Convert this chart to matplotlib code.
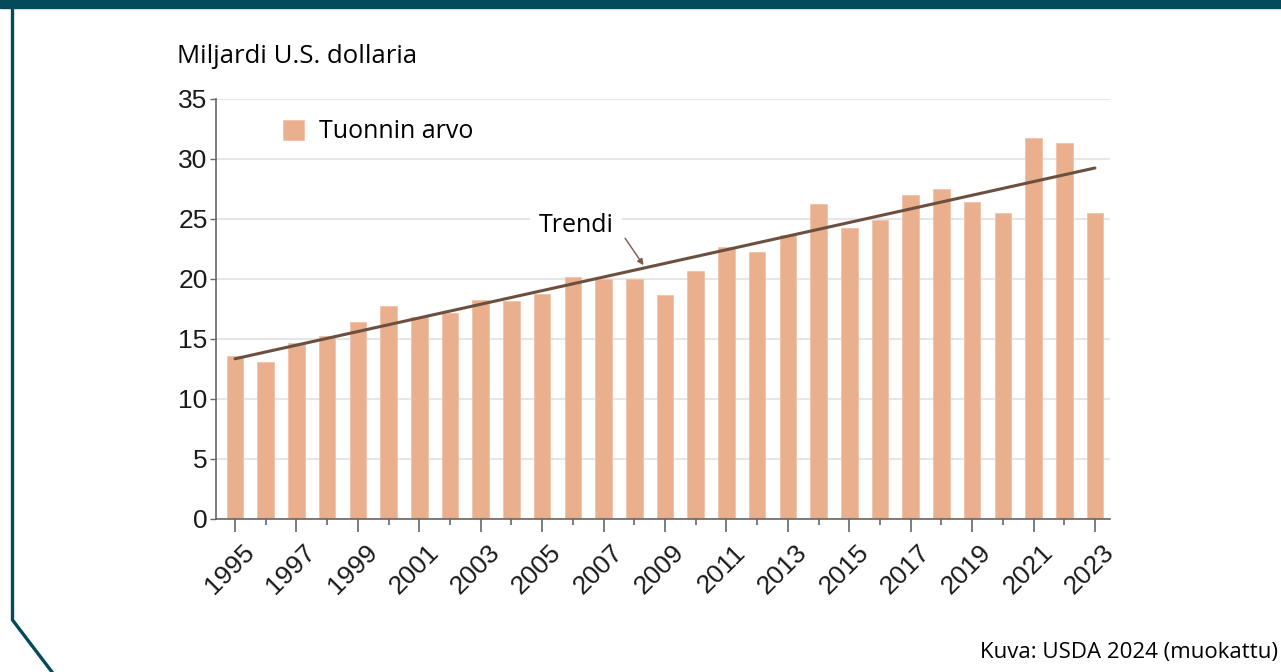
import matplotlib
matplotlib.use('Agg')
import matplotlib.pyplot as plt
import matplotlib.lines as mlines
import matplotlib.patches as mpatches
import matplotlib.transforms as mtransforms

# tuonnin arvo, miljardia USD (luettu kuvasta)
years = list(range(1995, 2024))
import_value = [13.6, 13.1, 14.7, 15.25, 16.4, 17.75, 16.8, 17.15, 18.25, 18.15,
                18.75, 20.15, 20.0, 20.0, 18.7, 20.65, 22.65, 22.25, 23.65, 26.25,
                24.25, 24.9, 27.0, 27.5, 26.4, 25.5, 31.75, 31.3, 25.5]
trend_years = [1995, 2023]
trend_values = [13.35, 29.25]
y_ticks = [0, 5, 10, 15, 20, 25, 30, 35]
x_major = years[::2]
x_minor = years[1::2]

bar_color = '#eaaf8d'
trend_color = '#6b5040'
frame_color = '#054a5a'
tick_color = '#666666'
label_font = ['Open Sans', 'DejaVu Sans']

plt.rcParams['font.family'] = ['Liberation Sans', 'DejaVu Sans']

fig = plt.figure(figsize=(12.81, 6.72), dpi=100)
ax = fig.add_axes([0.1686, 0.2277, 0.6979, 0.625])

ax.bar(years, import_value, width=0.54, color=bar_color, edgecolor='#f0c2a6',
       linewidth=0.6, label='Tuonnin arvo', zorder=2)
ax.plot(trend_years, trend_values, color=trend_color, lw=2.2, zorder=3,
        solid_capstyle='round')

ax.set_xlim(1994.38, 2023.49)
ax.set_ylim(0, 35)
ax.set_yticks(y_ticks)
ax.set_xticks(x_major)
ax.set_xticks(x_minor, minor=True)

ax.grid(axis='y', color='#e6e6e6', lw=1.5, zorder=0)
ax.set_axisbelow(True)
for s in ['top', 'right']:
    ax.spines[s].set_visible(False)
for s in ['left', 'bottom']:
    ax.spines[s].set_color(tick_color)
    ax.spines[s].set_linewidth(1.2)

ax.tick_params(axis='y', length=4, width=1, color=tick_color, pad=2,
               labelsize=19, labelcolor='#1a1a1a')
ax.tick_params(axis='x', which='major', length=9, width=1.2, color=tick_color,
               pad=4, labelsize=19, labelcolor='#1a1a1a')
ax.tick_params(axis='x', which='minor', length=4, width=1.2, color=tick_color)

ax.set_xticklabels([str(y) for y in x_major], rotation=45, ha='right',
                   va='top', rotation_mode='anchor')
# vuosiluvut hieman oikealle ja alas kuten alkuperaisessa
shift = mtransforms.ScaledTranslation(7 / 100, -3 / 100, fig.dpi_scale_trans)
for lbl in ax.get_xticklabels():
    lbl.set_transform(lbl.get_transform() + shift)

leg = ax.legend(loc='upper left', bbox_to_anchor=(0.05, 1.005), frameon=False,
                handlelength=0.85, handleheight=0.85, handletextpad=0.6,
                prop={'family': label_font, 'size': 18})

ax.text(2006.1, 24.45, 'Trendi', ha='center', va='center', fontsize=18,
        family=label_font, zorder=4,
        bbox=dict(boxstyle='square,pad=0.35', fc='white', ec='none'))
ax.annotate('', xy=(2008.3, 21.15), xytext=(2007.7, 23.4),
            arrowprops=dict(arrowstyle='-|>', color='#7a5a4a', lw=1,
                            mutation_scale=9, shrinkA=0, shrinkB=0),
            zorder=4)

fig.text(177 / 1281, 1 - 63 / 672, 'Miljardi U.S. dollaria', fontsize=18.5,
         family=label_font, ha='left', va='baseline')
fig.text(1278 / 1281, 1 - 658 / 672, 'Kuva: USDA 2024 (muokattu)', fontsize=16,
         family=label_font, ha='right', va='baseline')

# kehys
band_h = 8 / 672
fig.add_artist(mpatches.Rectangle((0, 1 - band_h), 1, band_h,
                                  transform=fig.transFigure, color=frame_color))
fig.add_artist(mlines.Line2D([12.5 / 1281, 12.5 / 1281, 52 / 1281],
                             [1, 1 - 620 / 672, 0], transform=fig.transFigure,
                             color=frame_color, lw=2.4))

fig.savefig('out.png', dpi=100)
